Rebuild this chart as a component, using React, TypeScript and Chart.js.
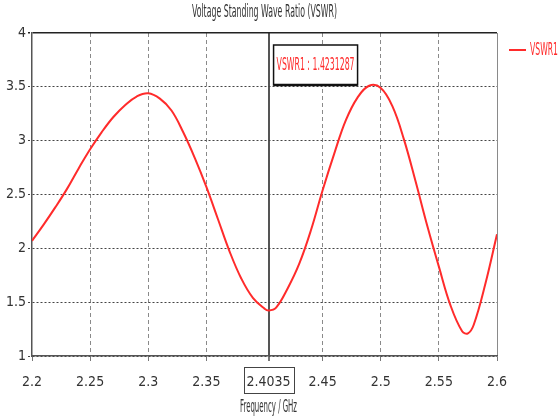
import React, { useEffect, useRef } from 'react';
import { Chart, registerables } from 'chart.js';

Chart.register(...registerables);

const chartTitle = 'Voltage Standing Wave Ratio (VSWR)';
const xAxisTitle = 'Frequency / GHz';
const seriesName = 'VSWR1';
const markerFreq = 2.4035;
const markerValue = 1.4231287;

const freqGHz = [
  2.2, 2.21, 2.22, 2.23, 2.24, 2.25, 2.26, 2.27, 2.28, 2.29,
  2.3, 2.31, 2.32, 2.33, 2.34, 2.35, 2.36, 2.37, 2.38, 2.39,
  2.4, 2.4035, 2.41, 2.42, 2.43, 2.44, 2.45, 2.46, 2.47, 2.48, 2.49,
  2.5, 2.51, 2.52, 2.53, 2.54, 2.55, 2.56, 2.57, 2.575, 2.58, 2.59,
  2.6,
];
const vswr1 = [
  2.07, 2.22, 2.38, 2.55, 2.74, 2.92, 3.08, 3.22, 3.33, 3.41,
  3.44, 3.39, 3.28, 3.08, 2.84, 2.57, 2.27, 1.97, 1.72, 1.54,
  1.44, 1.4231, 1.45, 1.63, 1.86, 2.17, 2.54, 2.88, 3.19, 3.4, 3.51,
  3.49, 3.32, 3.01, 2.62, 2.21, 1.83, 1.47, 1.23, 1.21, 1.29, 1.67,
  2.13,
];

const xTickValues = [2.2, 2.25, 2.3, 2.35, 2.4035, 2.45, 2.5, 2.55, 2.6];
const xTickLabels = ['2.2', '2.25', '2.3', '2.35', '2.4035', '2.45', '2.5', '2.55', '2.6'];
const yTickValues = [1, 1.5, 2, 2.5, 3, 3.5, 4];
const yTickLabels = ['1', '1.5', '2', '2.5', '3', '3.5', '4'];

const FONT = "'Liberation Sans Narrow', 'DejaVu Sans Condensed', 'Liberation Sans', sans-serif";
const RED = '#ff2b2b';
const TICK_SIZE = 14;

function fitText(
  ctx: CanvasRenderingContext2D,
  text: string,
  x: number,
  y: number,
  size: number,
  width: number,
  align: CanvasTextAlign,
  color: string
) {
  ctx.save();
  ctx.font = `${size}px ${FONT}`;
  const w = ctx.measureText(text).width;
  const sx = Math.min(1, width / w);
  ctx.translate(x, y);
  ctx.scale(sx, 1);
  ctx.textAlign = align;
  ctx.textBaseline = 'middle';
  ctx.fillStyle = color;
  ctx.fillText(text, 0, 0);
  ctx.restore();
}

const overlay = {
  id: 'overlay',
  afterDraw(chart: any) {
    const { ctx, chartArea: ca } = chart;
    const xs = chart.scales.x;
    const cx = (ca.left + ca.right) / 2;
    // title
    fitText(ctx, chartTitle, cx, 13, 17, 145, 'center', '#333');
    const mx = xs.getPixelForValue(markerFreq);
    // marker value box
    const bx = mx + 5;
    const by = ca.top + 12;
    const bw = 84;
    const bh = 40;
    ctx.save();
    ctx.fillStyle = '#fff';
    ctx.fillRect(bx, by, bw, bh);
    ctx.strokeStyle = '#111';
    ctx.lineWidth = 1.5;
    ctx.strokeRect(bx, by, bw, bh);
    ctx.lineWidth = 2.5;
    ctx.beginPath();
    ctx.moveTo(bx, by + bh);
    ctx.lineTo(bx + bw, by + bh);
    ctx.stroke();
    ctx.restore();
    fitText(ctx, `${seriesName} : ${markerValue}`, bx + bw / 2, by + bh / 2, 18, 78, 'center', RED);
    // boxed marker tick label
    ctx.save();
    ctx.font = `${TICK_SIZE}px ${FONT}`;
    const lw = ctx.measureText(xTickLabels[xTickValues.indexOf(markerFreq)]).width + 6;
    ctx.strokeStyle = '#444';
    ctx.lineWidth = 1;
    ctx.strokeRect(Math.round(mx - lw / 2) + 0.5, xs.top + 11.5, Math.round(lw), 26);
    ctx.restore();
    // x axis title
    fitText(ctx, xAxisTitle, cx + 4, 408, 17, 57, 'center', '#333');
    // legend
    const ly = ca.top + 17;
    ctx.save();
    ctx.strokeStyle = RED;
    ctx.lineWidth = 2;
    ctx.beginPath();
    ctx.moveTo(ca.right + 12, ly);
    ctx.lineTo(ca.right + 29, ly);
    ctx.stroke();
    ctx.restore();
    fitText(ctx, seriesName, ca.right + 33, ly + 1, 17, 28, 'left', RED);
  },
};

export default function App() {
  const canvasRef = useRef<HTMLCanvasElement | null>(null);

  useEffect(() => {
    if (!canvasRef.current) return;
    const chart = new Chart(canvasRef.current, {
      type: 'line',
      data: {
        datasets: [
          {
            label: seriesName,
            data: freqGHz.map((f, i) => ({ x: f, y: vswr1[i] })),
            borderColor: RED,
            borderWidth: 2,
            pointRadius: 0,
            fill: false,
            tension: 0.4,
          },
        ],
      },
      options: {
        animation: false,
        responsive: true,
        maintainAspectRatio: false,
        layout: { padding: { top: 33, right: 63, left: 0, bottom: 0 } },
        plugins: {
          legend: { display: false },
          title: { display: false },
          tooltip: { enabled: false },
        },
        scales: {
          x: {
            type: 'linear',
            min: 2.2,
            max: 2.6,
            afterBuildTicks: (s: any) => {
              s.ticks = xTickValues.map((v) => ({ value: v }));
            },
            afterFit: (s: any) => {
              s.height = 63;
            },
            ticks: {
              autoSkip: false,
              maxRotation: 0,
              padding: 13,
              color: '#333',
              font: { family: FONT, size: TICK_SIZE },
              callback: (_v: any, i: number) => xTickLabels[i],
            },
            grid: {
              drawTicks: true,
              tickLength: 5,
              color: (c: any) => {
                const v = c.tick ? c.tick.value : 0;
                if (v === markerFreq) return '#555';
                if (v === 2.2) return 'rgba(0,0,0,0)';
                return '#8a8a8a';
              },
              lineWidth: (c: any) => (c.tick && c.tick.value === markerFreq ? 2 : 1),
              tickColor: '#777',
            },
            border: {
              display: true,
              color: '#555',
              width: 1.5,
              dash: (c: any) => {
                const v = c.tick ? c.tick.value : 0;
                if (v === markerFreq || v === 2.6) return [];
                return [4, 3];
              },
            },
          },
          y: {
            min: 1,
            max: 4,
            afterBuildTicks: (s: any) => {
              s.ticks = yTickValues.map((v) => ({ value: v }));
            },
            afterFit: (s: any) => {
              s.width = 32;
            },
            ticks: {
              padding: 2,
              color: '#333',
              font: { family: FONT, size: TICK_SIZE },
              callback: (_v: any, i: number) => yTickLabels[i],
            },
            grid: {
              drawTicks: true,
              tickLength: 4,
              color: (c: any) => {
                const v = c.tick ? c.tick.value : 0;
                if (v === 4) return '#222';
                return '#444';
              },
              lineWidth: (c: any) => (c.tick && c.tick.value === 4 ? 1.5 : 1),
              tickBorderDash: [2, 2],
            },
            border: {
              display: true,
              color: '#555',
              width: 1.5,
              dash: (c: any) => {
                const v = c.tick ? c.tick.value : 0;
                if (v === 4) return [];
                return [2, 2];
              },
            },
          },
        },
      },
      plugins: [overlay],
    });
    return () => chart.destroy();
  }, []);

  return (
    <div style={{ position: 'fixed', left: 0, top: 0, width: 560, height: 419, background: '#fff' }}>
      <canvas ref={canvasRef} />
    </div>
  );
}
